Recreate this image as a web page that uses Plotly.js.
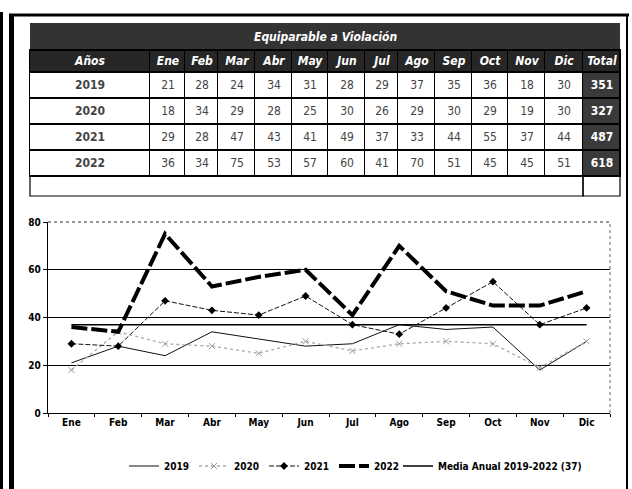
<!DOCTYPE html>
<html>
<head>
<meta charset="utf-8">
<script src="https://cdn.plot.ly/plotly-3.0.1.min.js"></script>
<style>html,body{margin:0;padding:0;background:#fff;}#chart{width:632px;height:489px;}</style>
</head>
<body>
<div id="chart"></div>
<script>
// ---- data ----
const tableTitle = "Equiparable a Violación";
const months = ["Ene","Feb","Mar","Abr","May","Jun","Jul","Ago","Sep","Oct","Nov","Dic"];
const years = ["2019","2020","2021","2022"];
const v2019 = [21,28,24,34,31,28,29,37,35,36,18,30];
const v2020 = [18,34,29,28,25,30,26,29,30,29,19,30];
const v2021 = [29,28,47,43,41,49,37,33,44,55,37,44];
const v2022 = [36,34,75,53,57,60,41,70,51,45,45,51];
const totals = [351,327,487,618];
const mediaValue = 37;
const mediaName = "Media Anual 2019-2022 (37)";
const yTicks = [0,20,40,60,80];

// ---- layout helpers (pixel geometry, not data) ----
const W = 632, H = 489;
const px = x => x / W;
const py = y => (H - y) / H;
const FONT = "Liberation Sans Narrow, Arial Narrow, DejaVu Sans Condensed, sans-serif";
const colWidths = [120,35,33,37,37,36,37,33,37,37,36,37,38,37];
const tableLeft = 30;
const xEdges = [tableLeft];
colWidths.forEach(w => xEdges.push(xEdges[xEdges.length - 1] + w));
const tableRight = xEdges[xEdges.length - 1];
const yEdges = [50, 72, 98, 124, 150, 176];

// ---- table built from the data arrays ----
const seriesRows = [v2019, v2020, v2021, v2022];
const headerText = ["<b><i>Años</i></b>"].concat(months.map(m => "<b><i>" + m + "</i></b>"), ["<b><i>Total</i></b>"]);
const bodyText = years.map((y, r) => ["<b>" + y + "</b>"].concat(seriesRows[r].map(String), ["<b>" + totals[r] + "</b>"]));
const tableText = [headerText].concat(bodyText);
const tableZ = [headerText.map(() => 2)].concat(bodyText.map(row => row.map((c, i) => i === row.length - 1 ? 1 : 0)));

const traces = [];
traces.push({
  type: "heatmap", x: xEdges, y: yEdges, z: tableZ, text: tableText, texttemplate: "%{text}",
  textfont: {family: FONT, size: 12},
  zmin: 0, zmax: 2, colorscale: [[0, "#ffffff"], [0.5, "#3a3a3a"], [1, "#262626"]], showscale: false,
  xgap: 1, ygap: 2, hoverinfo: "skip", xaxis: "x2", yaxis: "y2", showlegend: false
});

// chart lines
traces.push({type: "scatter", mode: "lines", name: "2019", x: months, y: v2019,
  line: {color: "#111", width: 1}, xaxis: "x", yaxis: "y"});
traces.push({type: "scatter", mode: "lines+markers", name: "2020", x: months, y: v2020,
  line: {color: "#aaaaaa", width: 1.3, dash: "dot"},
  marker: {symbol: "x-thin", size: 6, color: "#999", line: {color: "#999", width: 1}}, xaxis: "x", yaxis: "y"});
traces.push({type: "scatter", mode: "lines+markers", name: "2021", x: months, y: v2021,
  line: {color: "#111", width: 1, dash: "5px,2px"},
  marker: {symbol: "diamond", size: 6, color: "#000"}, xaxis: "x", yaxis: "y"});
traces.push({type: "scatter", mode: "lines", name: "2022", x: months, y: v2022,
  line: {color: "#000", width: 4, dash: "16px,4px"}, xaxis: "x", yaxis: "y"});
traces.push({type: "scatter", mode: "lines", name: mediaName, x: months, y: months.map(() => mediaValue),
  line: {color: "#000", width: 1.5}, xaxis: "x", yaxis: "y", legend: "legend2"});

const L = (x0, y0, x1, y1, color, width, dash) => ({type: "line", xref: "paper", yref: "paper",
  x0: px(x0), x1: px(x1), y0: py(y0), y1: py(y1), line: {color: color, width: width, dash: dash || "solid"}});

const legendFont = {family: FONT, size: 10, color: "#000", weight: "bold"};

const layout = {
  width: W, height: H, autosize: false,
  margin: {l: 0, r: 0, t: 0, b: 0},
  paper_bgcolor: "#ffffff", plot_bgcolor: "#ffffff",
  font: {family: FONT, color: "#000"},
  showlegend: true,
  legend: {orientation: "h", x: px(124), xanchor: "left", y: py(466), yanchor: "middle",
    font: legendFont, itemwidth: 30, entrywidth: 25, entrywidthmode: "pixels",
    bgcolor: "rgba(0,0,0,0)", tracegroupgap: 0},
  legend2: {orientation: "h", x: px(398), xanchor: "left", y: py(466), yanchor: "middle",
    font: legendFont, itemwidth: 30, bgcolor: "rgba(0,0,0,0)"},
  xaxis: {domain: [px(48), px(610)], type: "category", categoryorder: "array", categoryarray: months,
    range: [-0.5, 11.5], showgrid: false, zeroline: false, showline: true, linecolor: "#000", linewidth: 1.2,
    ticks: "outside", ticklen: 3, tickcolor: "#000", tickson: "boundaries",
    tickfont: {family: FONT, size: 10, color: "#000", weight: "bold"}, anchor: "y", fixedrange: true},
  yaxis: {domain: [py(413), py(222)], range: [0, 80], tickvals: yTicks, showgrid: true, gridcolor: "#000", gridwidth: 1.3,
    zeroline: false, showline: true, linecolor: "#000", linewidth: 1.2, ticks: "outside", ticklen: 4, tickcolor: "#000",
    tickfont: {family: FONT, size: 10, color: "#000", weight: "bold"}, anchor: "x", fixedrange: true},
  xaxis2: {domain: [px(tableLeft), px(tableRight)], range: [tableLeft, tableRight], visible: false, anchor: "y2", fixedrange: true},
  yaxis2: {domain: [py(yEdges[yEdges.length - 1]), py(yEdges[0])], range: [yEdges[yEdges.length - 1], yEdges[0]],
    visible: false, anchor: "x2", fixedrange: true},
  annotations: [
    {xref: "paper", yref: "paper", x: px((tableLeft + tableRight) / 2), y: py(37), text: "<b><i>" + tableTitle + "</i></b>", showarrow: false,
      xanchor: "center", yanchor: "middle", font: {family: FONT, size: 12, color: "#ffffff"}}
  ],
  shapes: [
    // title row background
    {type: "rect", xref: "paper", yref: "paper", layer: "below", x0: px(tableLeft), x1: px(tableRight), y0: py(51), y1: py(23),
      fillcolor: "#333333", line: {width: 0}},
    // table grid background (shows through cell gaps)
    {type: "rect", xref: "paper", yref: "paper", layer: "below", x0: px(tableLeft - 1), x1: px(tableRight + 1), y0: py(177), y1: py(49),
      fillcolor: "#000000", line: {width: 0}},
    // empty bottom row
    {type: "rect", xref: "paper", yref: "paper", x0: px(tableLeft), x1: px(583), y0: py(196), y1: py(176),
      fillcolor: "rgba(0,0,0,0)", line: {color: "#000", width: 1.2}},
    {type: "rect", xref: "paper", yref: "paper", x0: px(583), x1: px(tableRight), y0: py(196), y1: py(176),
      fillcolor: "rgba(0,0,0,0)", line: {color: "#000", width: 1.2}},
    // top gridline and plot right border
    L(48, 222, 610, 222, "#333", 1, "dot"),
    L(610, 413, 610, 222, "#666", 1, "dot"),
    // outer frame
    L(9, 15, 629, 15, "#000", 3),
    L(11.5, 14, 11.5, 489, "#000", 5),
    L(627, 14, 627, 489, "#000", 2),
    L(1.5, 12, 1.5, 489, "#000", 3)
  ]
};

Plotly.newPlot("chart", traces, layout, {displayModeBar: false, staticPlot: true});
</script>
</body>
</html>
